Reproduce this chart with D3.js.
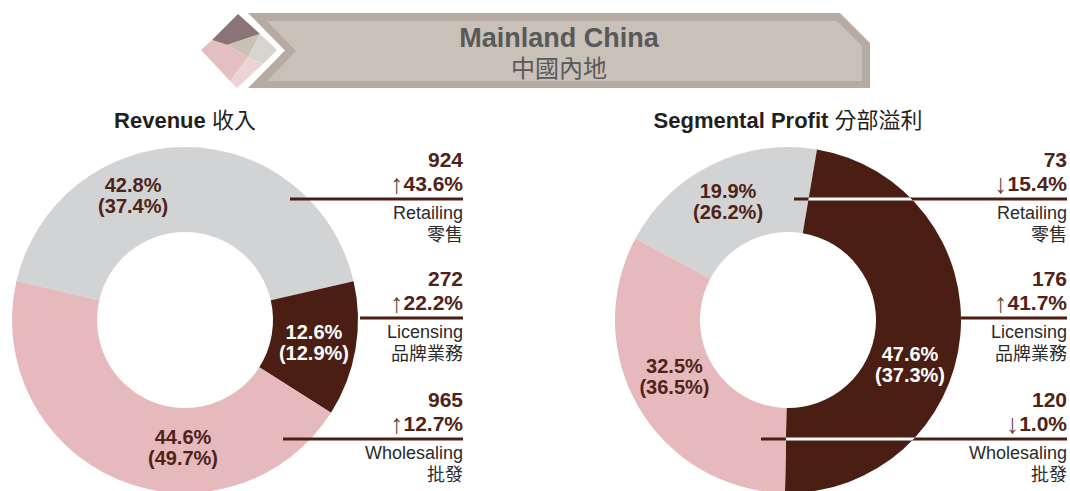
<!DOCTYPE html>
<html><head><meta charset="utf-8">
<script src="https://cdn.jsdelivr.net/npm/d3@7"></script>
<style>body{margin:0;background:#fff}svg{display:block}</style>
</head><body>
<svg id="chart" width="1070" height="491"></svg>
<script>
// ---------- data ----------
const categories = ["Retailing", "Licensing", "Wholesaling"];
const categoriesZh = ["零售", "品牌業務", "批發"];
const revenueValues = [924, 272, 965];
const revenueShare = [42.8, 12.6, 44.6];
const revenuePrevShare = [37.4, 12.9, 49.7];
const revenueChange = [43.6, 22.2, 12.7];
const profitValues = [73, 176, 120];
const profitShare = [19.9, 47.6, 32.5];
const profitPrevShare = [26.2, 37.3, 36.5];
const profitChange = [-15.4, 41.7, -1.0];
const bannerTitle = "Mainland China";
const bannerTitleZh = "中國內地";

// ---------- style ----------
const FONT = '"Liberation Sans", Arial, "Noto Sans CJK TC", sans-serif';
const colors = ["#d1d3d4", "#4a1e13", "#e6b9bc"];
const onSliceText = ["#4f2317", "#ffffff", "#4f2317"];
const brown = "#4f2317";
const lineColor = "#4a1e13";
const textDark = "#2b2b2b";

const svg = d3.select("#chart");

// ---------- banner ----------
const banner = svg.append("g");
const poly = pts => "M" + pts.map(p => p.join(",")).join("L") + "Z";
banner.append("path").attr("d", poly([[248,13],[840,13],[870,43],[870,88],[248,88],[285,50.5]])).attr("fill", "#b6aba2");
banner.append("path").attr("d", poly([[267,21],[837,21],[862,46],[862,81],[267,81],[296,51]])).attr("fill", "#c9c0b7");
// diamond icon
const T=[238,14], R=[277,50], B=[237,88], L=[201,50];
const P1=[212,40], P2=[260,34], P3=[227,45], P4=[248,57], P5=[263,64], P6=[230,81];
const pieces = [
  {pts:[T,P2,P3,P1], c:"#8a7475"},
  {pts:[P1,P3,P4,P6,L], c:"#e4bfc0"},
  {pts:[P3,P2,P4], c:"#c9bfb5"},
  {pts:[P2,R,P5,P4], c:"#d7d3ce"},
  {pts:[P4,P5,B,P6], c:"#eed3d4"}
];
banner.selectAll("path.dia").data(pieces).join("path").attr("class","dia")
  .attr("d", d => poly(d.pts)).attr("fill", d => d.c);
banner.append("text").attr("x", 559).attr("y", 47).attr("text-anchor","middle")
  .attr("font-family", FONT).attr("font-weight","bold").attr("font-size", 27)
  .attr("fill", "#58595b").text(bannerTitle);
banner.append("text").attr("x", 559).attr("y", 77).attr("text-anchor","middle")
  .attr("font-family", FONT).attr("font-size", 24)
  .attr("fill", "#58595b").text(bannerTitleZh);

// ---------- donuts ----------
const lineYs = [199, 318, 439];
const innerR = 88, outerR = 173;
const arc = d3.arc().innerRadius(innerR).outerRadius(outerR);

function drawDonut(cfg, idx) {
  const g = svg.append("g");
  const data = categories.map((c, i) => ({
    cat: c, zh: categoriesZh[i], share: cfg.share[i], prev: cfg.prev[i],
    value: cfg.values[i], change: cfg.change[i], i
  }));
  const s = cfg.startDeg * Math.PI / 180;
  const pie = d3.pie().sort(null).value(d => d.share).startAngle(s).endAngle(s + 2 * Math.PI);
  const arcs = pie(data);

  // title
  const t = g.append("text").attr("x", cfg.cx).attr("y", 128).attr("text-anchor", "middle")
    .attr("font-family", FONT).attr("font-size", 22).attr("fill", "#231f20");
  t.append("tspan").attr("font-weight", "bold").text(cfg.title + " ");
  t.append("tspan").attr("font-weight", "normal").text(cfg.titleZh);

  const dg = g.append("g").attr("transform", `translate(${cfg.cx},${cfg.cy})`);
  dg.selectAll("path").data(arcs).join("path")
    .attr("d", arc).attr("fill", (d, i) => colors[i]);

  // clip for dark slice
  const clipId = "clipDark" + idx;
  svg.append("defs").append("clipPath").attr("id", clipId)
    .append("path").attr("d", arc(arcs[1]))
    .attr("transform", `translate(${cfg.cx},${cfg.cy})`);

  // leader lines
  data.forEach((d, i) => {
    g.append("line").attr("x1", cfg.lineStart[i]).attr("x2", cfg.right)
      .attr("y1", lineYs[i]).attr("y2", lineYs[i])
      .attr("stroke", lineColor).attr("stroke-width", 3);
    g.append("line").attr("x1", cfg.lineStart[i]).attr("x2", cfg.right)
      .attr("y1", lineYs[i]).attr("y2", lineYs[i])
      .attr("stroke", "#ffffff").attr("stroke-width", 3)
      .attr("clip-path", `url(#${clipId})`);
  });

  // slice labels
  const fmt = d3.format(".1f");
  arcs.forEach((a, i) => {
    const ang = cfg.labelAng[i] * Math.PI / 180, r = cfg.labelR[i];
    const x = cfg.cx + r * Math.sin(ang), y = cfg.cy - r * Math.cos(ang);
    const tx = g.append("text").attr("text-anchor", "middle").attr("font-family", FONT)
      .attr("font-weight", "bold").attr("font-size", 20).attr("fill", onSliceText[i]);
    tx.append("tspan").attr("x", x).attr("y", y - 3.5).text(fmt(a.data.share) + "%");
    tx.append("tspan").attr("x", x).attr("y", y + 17.5).text("(" + fmt(a.data.prev) + "%)");
  });

  // side labels
  data.forEach((d, i) => {
    const ly = lineYs[i];
    g.append("text").attr("x", cfg.right).attr("y", ly - 32).attr("text-anchor", "end")
      .attr("font-family", FONT).attr("font-weight", "bold").attr("font-size", 21)
      .attr("fill", brown).text(d.value);
    const ch = g.append("text").attr("x", cfg.right).attr("y", ly - 8).attr("text-anchor", "end")
      .attr("font-family", FONT).attr("font-size", 21).attr("fill", brown);
    ch.append("tspan").attr("font-weight", "normal").attr("font-size", 27).attr("fill", "#6a4538")
      .attr("dy", 2).text(d.change < 0 ? "↓" : "↑");
    ch.append("tspan").attr("font-weight", "bold").attr("dy", -2).text(fmt(Math.abs(d.change)) + "%");
    g.append("text").attr("x", cfg.right).attr("y", ly + 20).attr("text-anchor", "end")
      .attr("font-family", FONT).attr("font-size", 18).attr("fill", textDark).text(d.cat);
    g.append("text").attr("x", cfg.right).attr("y", ly + 42).attr("text-anchor", "end")
      .attr("font-family", FONT).attr("font-size", 18).attr("fill", textDark).text(d.zh);
  });
}

drawDonut({
  cx: 185, cy: 320, startDeg: -77, title: "Revenue", titleZh: "收入",
  share: revenueShare, prev: revenuePrevShare, values: revenueValues, change: revenueChange,
  labelAng: [-22.6, 100.1, 180.9], labelR: [135, 131, 128],
  lineStart: [290, 360, 283], right: 463
}, 0);

drawDonut({
  cx: 788, cy: 320, startDeg: -62, title: "Segmental Profit", titleZh: "分部溢利",
  share: profitShare, prev: profitPrevShare, values: profitValues, change: profitChange,
  labelAng: [-26.8, 110.2, 243.4], labelR: [133, 130, 127],
  lineStart: [794, 961, 761], right: 1067
}, 1);
</script>
</body></html>
